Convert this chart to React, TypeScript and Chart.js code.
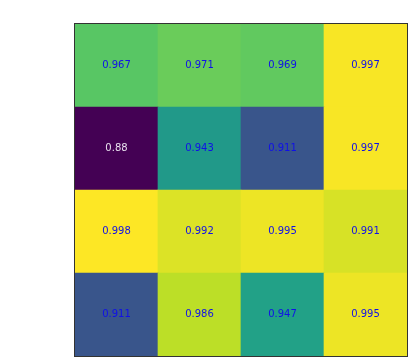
import React, { useEffect, useRef } from "react";
import { Chart, registerables } from "chart.js";

Chart.register(...registerables);

// Columns (left to right) and rows (top to bottom)
const columns = ["0", "1", "2", "3"];
const row0 = [0.967, 0.971, 0.969, 0.997];
const row1 = [0.88, 0.943, 0.911, 0.997];
const row2 = [0.998, 0.992, 0.995, 0.991];
const row3 = [0.911, 0.986, 0.947, 0.995];
const rowsTopToBottom = [row0, row1, row2, row3];

const VMIN = 0.88;
const VMAX = 0.998;

const viridisStops = [
  "#440154", "#482475", "#414487", "#355f8d", "#2a788e", "#21918c",
  "#22a884", "#44bf70", "#7ad151", "#bddf26", "#fde725",
];

function hexToRgb(h: string) {
  return [parseInt(h.slice(1, 3), 16), parseInt(h.slice(3, 5), 16), parseInt(h.slice(5, 7), 16)];
}

function viridis(v: number) {
  let t = (v - VMIN) / (VMAX - VMIN);
  t = Math.max(0, Math.min(1, t));
  const pos = t * (viridisStops.length - 1);
  const i = Math.min(Math.floor(pos), viridisStops.length - 2);
  const f = pos - i;
  const a = hexToRgb(viridisStops[i]);
  const b = hexToRgb(viridisStops[i + 1]);
  const c = a.map((x, k) => Math.round(x + (b[k] - x) * f));
  return `rgb(${c[0]},${c[1]},${c[2]})`;
}

const labelPlugin = {
  id: "cellLabels",
  afterDatasetsDraw(chart: any) {
    const ctx = chart.ctx;
    ctx.save();
    ctx.font = "10px 'DejaVu Sans'";
    ctx.textAlign = "center";
    ctx.textBaseline = "middle";
    chart.data.datasets.forEach((ds: any, di: number) => {
      const meta = chart.getDatasetMeta(di);
      meta.data.forEach((el: any, i: number) => {
        const v = ds.values[i];
        const t = (v - VMIN) / (VMAX - VMIN);
        ctx.fillStyle = t < 0.1 ? "#e8e0ee" : "#1010e8";
        const cy = (el.y + el.base) / 2;
        ctx.fillText(String(v), el.x, cy);
      });
    });
    const a = chart.chartArea;
    ctx.strokeStyle = "#333333";
    ctx.lineWidth = 1;
    ctx.strokeRect(a.left - 0.5, a.top - 0.5, a.right - a.left + 1, a.bottom - a.top + 1);
    ctx.restore();
  },
};

export default function App() {
  const ref = useRef<HTMLCanvasElement>(null);
  useEffect(() => {
    if (!ref.current) return;
    const bottomUp = [...rowsTopToBottom].reverse();
    const chart = new Chart(ref.current, {
      type: "bar",
      data: {
        labels: columns,
        datasets: bottomUp.map((row, r) => ({
          label: "row" + (3 - r),
          data: row.map(() => 1),
          values: row,
          backgroundColor: row.map((v) => viridis(v)),
          borderWidth: 0,
          barPercentage: 1,
          categoryPercentage: 1,
        })) as any,
      },
      options: {
        animation: false,
        responsive: false,
        devicePixelRatio: 1,
        layout: { padding: { left: 75, top: 24, right: 5, bottom: 6 } },
        plugins: { legend: { display: false }, tooltip: { enabled: false } },
        scales: {
          x: { stacked: true, display: false },
          y: { stacked: true, display: false, min: 0, max: 4 },
        },
      },
      plugins: [labelPlugin],
    });
    return () => chart.destroy();
  }, []);
  return (
    <div style={{ position: "fixed", left: 0, top: 0, width: 412, height: 362, background: "#fff" }}>
      <canvas ref={ref} width={412} height={362} />
    </div>
  );
}
